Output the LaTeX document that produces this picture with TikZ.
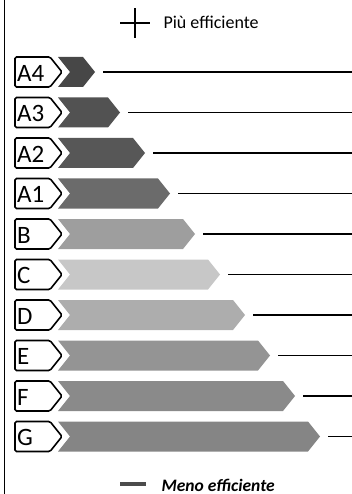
\documentclass[tikz,border=0pt]{standalone}
\usepackage{fontspec}
\setmainfont{Carlito}

\begin{document}
\begin{tikzpicture}[x=1pt, y=-1pt,
    tag/.style={draw=black, line width=1.6pt, fill=white, rounded corners=1.5pt},
    tagtext/.style={anchor=west, inner sep=0pt, font=\fontsize{25}{25}\selectfont},
    rule/.style={draw=black, line width=1.2pt},
    legend/.style={font=\fontsize{18}{18}\selectfont, anchor=west},
]
\useasboundingbox (0,0) rectangle (352,494);

% left margin line
\draw[line width=0.8pt] (4,0) -- (4,494);

% classes
\foreach \lab/\col [count=\i from 0] in {A4/black!72, A3/black!68, A2/black!66, A1/black!58,
    B/black!38, C/black!22, D/black!32, E/black!42, F/black!46, G/black!48} {
  \pgfmathsetmacro{\yy}{72+40.5*\i}
  \pgfmathsetmacro{\tip}{95+25*\i}
  \draw[tag] (15,\yy-15) -- (50,\yy-15) -- (62,\yy) -- (50,\yy+15) -- (15,\yy+15) -- cycle;
  \node[tagtext] (t\lab) at (17,\yy+1) {\lab};
  \fill[\col] (58,\yy-15) -- (\tip-12,\yy-15) -- (\tip,\yy) -- (\tip-12,\yy+15)
    -- (58,\yy+15) -- (70,\yy) -- cycle;
  \coordinate (p\lab) at (\tip,\yy);
  \coordinate (e\lab) at (352,\yy);
  \draw[rule] ([xshift=8pt]p\lab) -- (e\lab);
}

% top legend
\coordinate (plus) at (135,23);
\draw[line width=2pt] ([xshift=-15pt]plus) -- ([xshift=15pt]plus);
\draw[line width=2pt] ([yshift=-15pt]plus) -- ([yshift=15pt]plus);
\node[legend] (piu) at (160,22) {Più efficiente};

% bottom legend
\coordinate (minus) at (133,484);
\fill[black!70] ([xshift=-13pt, yshift=-2pt]minus) rectangle ([xshift=13pt, yshift=2pt]minus);
\node[legend, font=\fontsize{17.5}{17.5}\selectfont\bfseries\itshape] (meno) at (158,485) {Meno efficiente};
\end{tikzpicture}
\end{document}
